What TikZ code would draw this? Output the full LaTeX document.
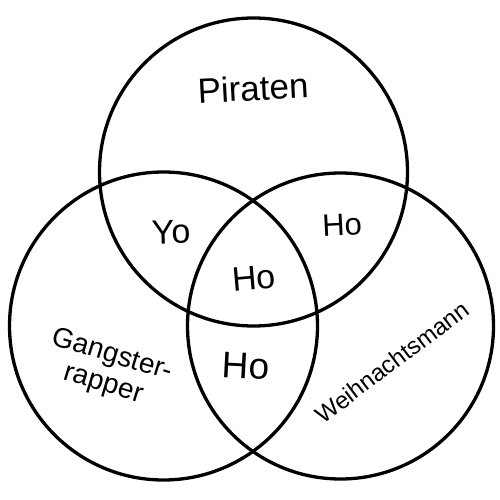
\documentclass[tikz,border=0pt]{standalone}
\usepackage{fontspec}
\setmainfont{Liberation Sans}
\begin{document}
\begin{tikzpicture}[x=1pt,y=-1pt,
  ring/.style={draw=black,line width=3.3pt},
  lbl/.style={inner sep=0pt,align=center}]
\useasboundingbox (0,0) rectangle (500,500);
\fill[white] (0,0) rectangle (500,500);
\coordinate (ctop) at (253.5,172);
\coordinate (cleft) at (163.5,326);
\coordinate (cright) at (340.5,326);
\draw[ring] (ctop) circle[radius=154];
\draw[ring] (cleft) circle[radius=154];
\draw[ring] (cright) circle[radius=153];
\node[lbl,rotate=3,font=\fontsize{35}{40}\selectfont] (pir) at (253,88) {Piraten};
\node[lbl,rotate=2,font=\fontsize{34}{40}\selectfont] (yo) at (171,232) {Yo};
\node[lbl,rotate=3,font=\fontsize{31}{36}\selectfont] (ho1) at (342,225) {Ho};
\node[lbl,rotate=5,font=\fontsize{34}{40}\selectfont] (ho2) at (254,278) {Ho};
\node[lbl,rotate=-3,font=\fontsize{37}{42}\selectfont] (ho3) at (246,366) {Ho};
\node[lbl,rotate=-17,font=\fontsize{28}{30}\selectfont] (gang) at (108,370) {Gangster-\\rapper};
\node[lbl,rotate=37,font=\fontsize{24}{28}\selectfont] (weih) at (392,362) {Weihnachtsmann};
\end{tikzpicture}
\end{document}
